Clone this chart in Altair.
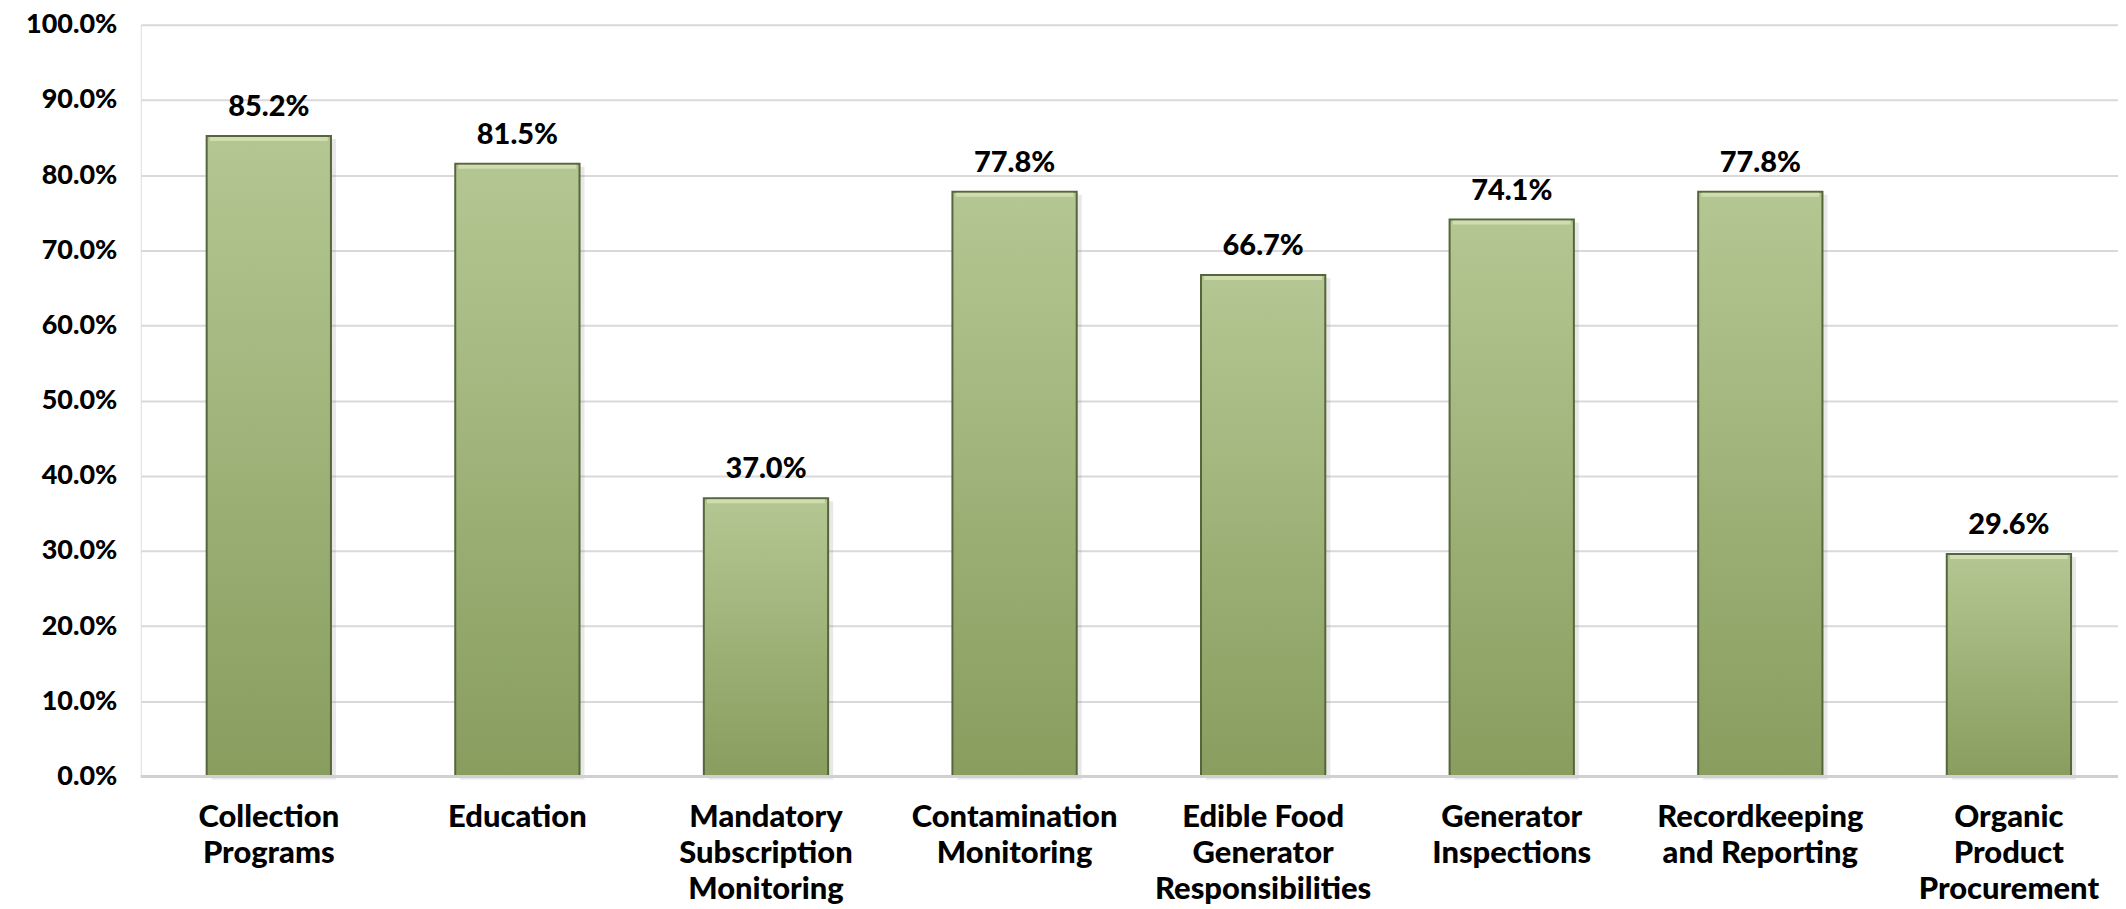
import altair as alt
import pandas as pd

categories = [
    "Collection Programs",
    "Education",
    "Mandatory Subscription Monitoring",
    "Contamination Monitoring",
    "Edible Food Generator Responsibilities",
    "Generator Inspections",
    "Recordkeeping and Reporting",
    "Organic Product Procurement",
]
label_lines = [
    ["Collection", "Programs"],
    ["Education"],
    ["Mandatory", "Subscription", "Monitoring"],
    ["Contamination", "Monitoring"],
    ["Edible Food", "Generator", "Responsibilities"],
    ["Generator", "Inspections"],
    ["Recordkeeping", "and Reporting"],
    ["Organic", "Product", "Procurement"],
]
values = [0.852, 0.815, 0.370, 0.778, 0.667, 0.741, 0.778, 0.296]

df = pd.DataFrame({"category": categories, "value": values})

mapping = "{" + ", ".join(
    "'" + c + "': [" + ", ".join("'" + l + "'" for l in ls) + "]"
    for c, ls in zip(categories, label_lines)
) + "}"
label_expr = mapping + "[datum.value]"

FONT = "Lato"

x_enc = alt.X(
    "category:N",
    sort=categories,
    title=None,
    scale=alt.Scale(paddingInner=0.5, paddingOuter=0.227, align=0.584),
    axis=alt.Axis(
        labelAngle=0,
        labelExpr=label_expr,
        labelFont=FONT,
        labelFontSize=31,
        labelFontWeight=900,
        labelColor="#000000",
        labelLineHeight=36,
        labelPadding=26,
        labelBaseline="top",
        labelLimit=0,
        ticks=False,
        domain=False,
        grid=False,
    ),
)
y_enc = alt.Y(
    "value:Q",
    title=None,
    scale=alt.Scale(domain=[0, 1], nice=False),
    axis=alt.Axis(
        values=[i / 10 for i in range(11)],
        format=".1%",
        labelFont=FONT,
        labelFontSize=27,
        labelFontWeight=900,
        labelColor="#000000",
        labelPadding=24,
        ticks=False,
        domain=False,
        grid=True,
        gridColor="#d9d9d9",
        gridWidth=2,
    ),
)

base = alt.Chart(df)

shadow = base.mark_bar(color="#7f7f7f", opacity=0.18, xOffset=5, yOffset=3).encode(
    x=x_enc, y=y_enc
)

bars = base.mark_bar(
    color=alt.Gradient(
        gradient="linear",
        x1=0, y1=0, x2=0, y2=1,
        stops=[
            alt.GradientStop(offset=0, color="#b4c793"),
            alt.GradientStop(offset=1, color="#889d5e"),
        ],
    ),
    stroke="#55663a",
    strokeWidth=2,
).encode(x=x_enc, y=y_enc)

bevel = base.mark_tick(
    color="#dbe7bf", thickness=4, size=118, yOffset=3
).encode(x=x_enc, y=y_enc)

labels = base.mark_text(
    font=FONT, fontSize=29, fontWeight=900, color="#000000",
    baseline="alphabetic", dy=-20,
).encode(x=x_enc, y=y_enc, text=alt.Text("value:Q", format=".1%"))

zero_line = alt.Chart(pd.DataFrame({"z": [0.0]})).mark_rule(
    color="#d0d0d0", strokeWidth=3
).encode(y=alt.Y("z:Q", scale=alt.Scale(domain=[0, 1], nice=False)))

chart = (
    alt.layer(shadow, bars, bevel, labels, zero_line)
    .properties(
        width=1981,
        height=753,
        autosize=alt.AutoSizeParams(type="none"),
        padding={"left": 133, "top": 16, "right": 0, "bottom": 132},
    )
    .configure_view(stroke=None)
    .configure(background="#ffffff")
)

chart.save("out.html", embed_options={"renderer": "svg", "actions": False})
